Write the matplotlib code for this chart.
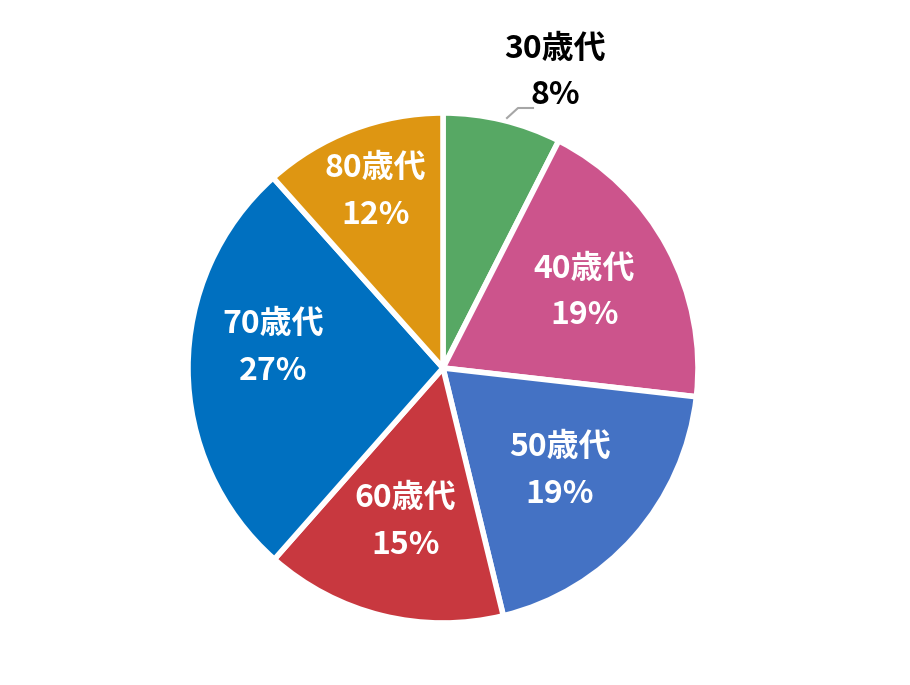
import numpy as np
import matplotlib.pyplot as plt

plt.rcParams['font.family'] = ['Noto Sans CJK JP', 'DejaVu Sans']

# values (percent of respondents)
ages = ['30歳代', '40歳代', '50歳代', '60歳代', '70歳代', '80歳代']
shares = [7.5, 19.3, 19.4, 15.3, 26.9, 11.6]
colors = ['#57A864', '#CC548C', '#4472C4', '#C8383F', '#0070C0', '#DE9612']

fig = plt.figure(figsize=(9.1, 6.85), dpi=100)
cx, cy, r = 443, 368, 255
ax = fig.add_axes([(cx - r) / 910, (685 - cy - r) / 685, 2 * r / 910, 2 * r / 685])

wedges, _ = ax.pie(shares, colors=colors, startangle=90, counterclock=False,
                   radius=1, wedgeprops=dict(edgecolor='white', linewidth=4))
ax.set_xlim(-1, 1)
ax.set_ylim(-1, 1)
ax.set_aspect('auto')
ax.axis('off')

# label distance (fraction of radius) and angle nudge; first one sits outside
dists = [None, 0.63, 0.61, 0.62, 0.67, 0.74]
nudge = [0, 0, 0, 0, -7, 0]
for i, w in enumerate(wedges):
    txt = f'{ages[i]}\n{round(shares[i]):.0f}%'
    if i == 0:
        ax.text((555 - cx) / r, (cy - 72) / r, txt, ha='center', va='center',
                fontsize=23, fontweight='bold', color='black', linespacing=1.6)
        # leader line
        px = np.array([507, 518, 533])
        py = np.array([118, 108, 108])
        ax.plot((px - cx) / r, (cy - py) / r, color='#A6A6A6', lw=1.5, clip_on=False)
        continue
    ang = np.deg2rad((w.theta1 + w.theta2) / 2 + nudge[i])
    d = dists[i]
    ax.text(d * np.cos(ang), d * np.sin(ang), txt, ha='center', va='center',
            fontsize=23, fontweight='bold', color='white', linespacing=1.6)

fig.savefig('out.png', dpi=100)
